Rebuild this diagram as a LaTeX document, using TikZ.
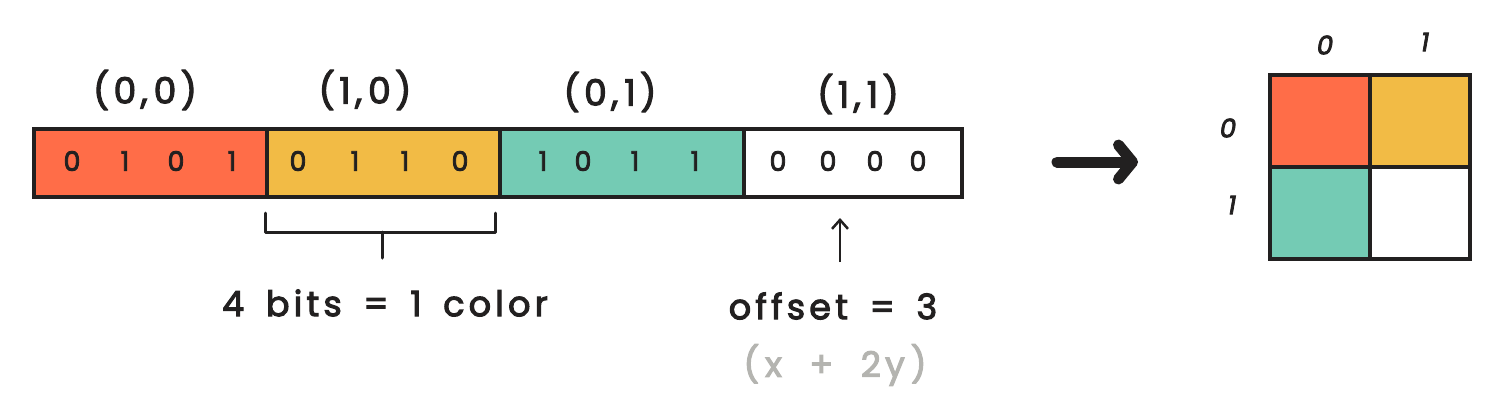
\documentclass[tikz,border=0pt]{standalone}
\usepackage{fontspec}
\setmainfont{Poppins}[LetterSpace=12,WordSpace=1.6,FakeBold=3]
\usetikzlibrary{arrows.meta}
\definecolor{cred}{HTML}{FF6D48}
\definecolor{cyel}{HTML}{F2BB45}
\definecolor{cteal}{HTML}{74CBB4}
\definecolor{ink}{HTML}{222020}
\definecolor{pencil}{HTML}{B4B4B0}
\begin{document}
\begin{tikzpicture}[x=1pt,y=-1pt,
  cell/.style={draw=ink,line width=3.5pt,minimum height=68pt,inner sep=0pt,anchor=north west},
  gcell/.style={draw=ink,line width=3.5pt,minimum width=100pt,minimum height=92pt,inner sep=0pt,anchor=north west},
  bit/.style={font=\fontsize{27}{27}\selectfont,text=ink,inner sep=0pt},
  lab/.style={font=\fontsize{36}{36}\selectfont,text=ink,inner sep=0pt},
  idx/.style={font=\fontsize{26}{26}\selectfont\itshape,text=ink,inner sep=0pt},
  note/.style={font=\fontsize{35}{35}\selectfont,text=ink,inner sep=0pt}]
\useasboundingbox (0,0) rectangle (1500,416);
% strip
\node[cell,fill=cred,minimum width=233pt] (c00) at (32,127) {};
\node[cell,fill=cyel,minimum width=233pt] (c10) at (265,127) {};
\node[cell,fill=cteal,minimum width=244pt] (c01) at (498,127) {};
\node[cell,fill=white,minimum width=218pt] (c11) at (742,127) {};
% labels
\node[lab] (l00) at (145,90) {(0,\,0)};
\node[lab] (l10) at (365,90) {(1,\,0)};
\node[lab] (l01) at (610,92) {(0,\,1)};
\node[lab] (l11) at (858,94) {(1,\,1)};
% bits
\node[bit] (b1) at (72,161) {0};
\node[bit] (b2) at (125,161) {1};
\node[bit] (b3) at (176,161) {0};
\node[bit] (b4) at (232,161) {1};
\node[bit] (b5) at (298,161) {0};
\node[bit] (b6) at (355,161) {1};
\node[bit] (b7) at (405,161) {1};
\node[bit] (b8) at (460,161) {0};
\node[bit] (b9) at (543,161) {1};
\node[bit] (b10) at (583,161) {0};
\node[bit] (b11) at (635,161) {1};
\node[bit] (b12) at (695,161) {1};
\node[bit] (b13) at (778,161) {0};
\node[bit] (b14) at (828,161) {0};
\node[bit] (b15) at (875,161) {0};
\node[bit] (b16) at (918,161) {0};
% bracket
\coordinate (brL) at (265,213);
\coordinate (brR) at (495,213);
\coordinate (brM) at (382,232);
\node[note] (bits) at (385,303) {4 bits = 1 color};
\draw[ink,line width=3pt,line join=round,line cap=round] (brL) -- (265,232) -- (495,232) -- (brR);
\draw[ink,line width=3pt,line cap=round] (brM) -- (382,258);
% offset
\node[note] (off) at (833,306) {offset = 3};
\node[note,text=pencil] (form) at (835,365) {(\,x\, +\, 2y\,)};
\coordinate (offtip) at (840,218);
\draw[ink,line width=2.5pt,-{Straight Barb[length=9pt,width=16pt]}] (840,262) -- (offtip);
% big arrow
\coordinate (a1) at (1057,162);
\coordinate (a2) at (1138,162);
\draw[ink,line width=11pt,line cap=round,-{Straight Barb[length=14pt,width=34pt,line cap=round,line join=round]}] (a1) -- (a2);
% grid
\node[gcell,fill=cred] (g00) at (1268,73) {};
\node[gcell,fill=cyel] (g10) at (1368,73) {};
\node[gcell,fill=cteal] (g01) at (1268,165) {};
\node[gcell,fill=white] (g11) at (1368,165) {};
\node[idx] (cx0) at (1325,45) {0};
\node[idx] (cx1) at (1425,42) {1};
\node[idx] (ry0) at (1228,128) {0};
\node[idx] (ry1) at (1232,205) {1};
\end{tikzpicture}
\end{document}
